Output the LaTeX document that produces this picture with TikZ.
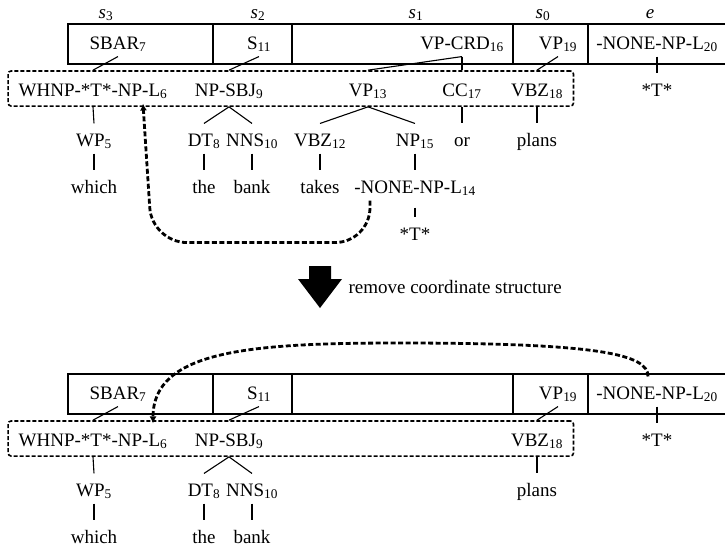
\documentclass[tikz,border=0pt]{standalone}
\usepackage{fontspec}
\setmainfont{Liberation Serif}
\usetikzlibrary{positioning,arrows.meta,fit}
\newcommand{\idx}[1]{\textsubscript{#1}}

\begin{document}
\begin{tikzpicture}[
        >=Latex,
        x=1pt, y=-1pt,
        line width=1.1pt,
        font=\fontsize{19pt}{22pt}\selectfont,
        lab/.style={anchor=base, inner xsep=1pt, inner ysep=2pt, text height=20pt, text depth=5pt},
        stack/.style={draw, dash pattern=on 4pt off 2pt, line width=1.6pt, rounded corners=3pt, inner xsep=9pt, inner ysep=2.5pt},
        move/.style={-{Latex[length=7pt,width=7pt]}, dash pattern=on 5pt off 2.5pt, line width=2.8pt}
    ]
      \useasboundingbox (0,0) rectangle (725,547);

      % before
      \node[lab] (s3) at (106,18) {\textit{s}\idx{3}};
      \node[lab] (s2) at (258,18) {\textit{s}\idx{2}};
      \node[lab] (s1) at (416,18) {\textit{s}\idx{1}};
      \node[lab] (s0) at (543,18) {\textit{s}\idx{0}};
      \node[lab] (e) at (650,18) {\textit{e}};

      \draw (725,24) -| (68,64) -- (725,64);
      \foreach \x in {213,292,513,588}
        \draw (\x,24) -- (\x,64);

      \node[lab] (sbar) at (118,49) {SBAR\idx{7}};
      \node[lab] (s11) at (259,49) {S\idx{11}};
      \node[lab] (vpcrd) at (462,49) {VP-CRD\idx{16}};
      \node[lab] (vp19) at (558,49) {VP\idx{19}};
      \node[lab] (none20) at (657,49) {-NONE-NP-L\idx{20}};

      \node[lab] (whnp) at (93,96) {WHNP-*T*-NP-L\idx{6}};
      \node[lab] (npsbj) at (229,96) {NP-SBJ\idx{9}};
      \node[lab] (vp13) at (368,96) {VP\idx{13}};
      \node[lab] (cc17) at (462,96) {CC\idx{17}};
      \node[lab] (vbz18) at (537,96) {VBZ\idx{18}};
      \node[lab] (trace) at (657,96) {*T*};
      \node[stack, fit=(whnp)(vbz18)] (stack) {};

      \node[lab] (wp5) at (94,146) {WP\idx{5}};
      \node[lab] (dt8) at (204,146) {DT\idx{8}};
      \node[lab] (nns10) at (252,146) {NNS\idx{10}};
      \node[lab] (vbz12) at (320,146) {VBZ\idx{12}};
      \node[lab] (np15) at (415,146) {NP\idx{15}};
      \node[lab] (or) at (462,146) {or};
      \node[lab] (plans) at (537,146) {plans};

      \node[lab] (which) at (94,193) {which};
      \node[lab] (the) at (204,193) {the};
      \node[lab] (bank) at (252,193) {bank};
      \node[lab] (takes) at (320,193) {takes};
      \node[lab] (none14) at (415,193) {-NONE-NP-L\idx{14}};
      \node[lab] (trace14) at (415,240) {*T*};

      \draw (sbar.south) -- (whnp |- stack.north);
      \draw (s11.south) -- (npsbj |- stack.north);
      \draw (vpcrd.south) -- (vp13 |- stack.north);
      \draw (vpcrd.south) -- (cc17 |- stack.north);
      \draw (vp19.south) -- (vbz18 |- stack.north);
      \draw (none20.south) -- (trace.north);
      \foreach \a/\b in {whnp/wp5, npsbj/dt8, npsbj/nns10, vp13/vbz12, vp13/np15, cc17/or, vbz18/plans}
        \draw (\a |- stack.south) -- (\b.north);
      \foreach \a/\b in {wp5/which, dt8/the, nns10/bank, vbz12/takes, np15/none14}
        \draw (\a.south) -- (\b.north);
      \draw[shorten <=7pt] (none14.south) -- (trace14.north);

      \draw[move, rounded corners=35pt] ([xshift=-45pt]none14.south) -- ++(0,42) -- ++(-218,0) -- ([xshift=50pt]whnp.south);

      % step
      \fill (309,266) -- (331,266) -- (331,279) -- (342,279) -- (320,308) -- (298,279) -- (309,279) -- cycle;
      \node[lab, anchor=base west] (remove) at (347,293) {remove coordinate structure};

      % after
      \draw (725,374) -| (68,414) -- (725,414);
      \foreach \x in {213,292,513,588}
        \draw (\x,374) -- (\x,414);

      \node[lab] (bsbar) at (118,399) {SBAR\idx{7}};
      \node[lab] (bs11) at (259,399) {S\idx{11}};
      \node[lab] (bvp19) at (558,399) {VP\idx{19}};
      \node[lab] (bnone20) at (657,399) {-NONE-NP-L\idx{20}};

      \node[lab] (bwhnp) at (93,446) {WHNP-*T*-NP-L\idx{6}};
      \node[lab] (bnpsbj) at (229,446) {NP-SBJ\idx{9}};
      \node[lab] (bvbz18) at (537,446) {VBZ\idx{18}};
      \node[lab] (btrace) at (657,446) {*T*};
      \node[stack, fit=(bwhnp)(bvbz18)] (bstack) {};

      \node[lab] (bwp5) at (94,496) {WP\idx{5}};
      \node[lab] (bdt8) at (204,496) {DT\idx{8}};
      \node[lab] (bnns10) at (252,496) {NNS\idx{10}};
      \node[lab] (bplans) at (537,496) {plans};

      \node[lab] (bwhich) at (94,543) {which};
      \node[lab] (bthe) at (204,543) {the};
      \node[lab] (bbank) at (252,543) {bank};

      \draw (bsbar.south) -- (bwhnp |- bstack.north);
      \draw (bs11.south) -- (bnpsbj |- bstack.north);
      \draw (bvp19.south) -- (bvbz18 |- bstack.north);
      \draw (bnone20.south) -- (btrace.north);
      \foreach \a/\b in {bwhnp/bwp5, bnpsbj/bdt8, bnpsbj/bnns10, bvbz18/bplans}
        \draw (\a |- bstack.south) -- (\b.north);
      \foreach \a/\b in {bwp5/bwhich, bdt8/bthe, bnns10/bbank}
        \draw (\a.south) -- (\b.north);

      \coordinate (arc) at (400,343);
      \draw[move] ([xshift=-9pt]bnone20.north) .. controls +(0,-22) and +(200,0) .. (arc)
        .. controls +(-150,0) and +(0,-73) .. ([xshift=60pt]bwhnp.north);
    \end{tikzpicture}
\end{document}
